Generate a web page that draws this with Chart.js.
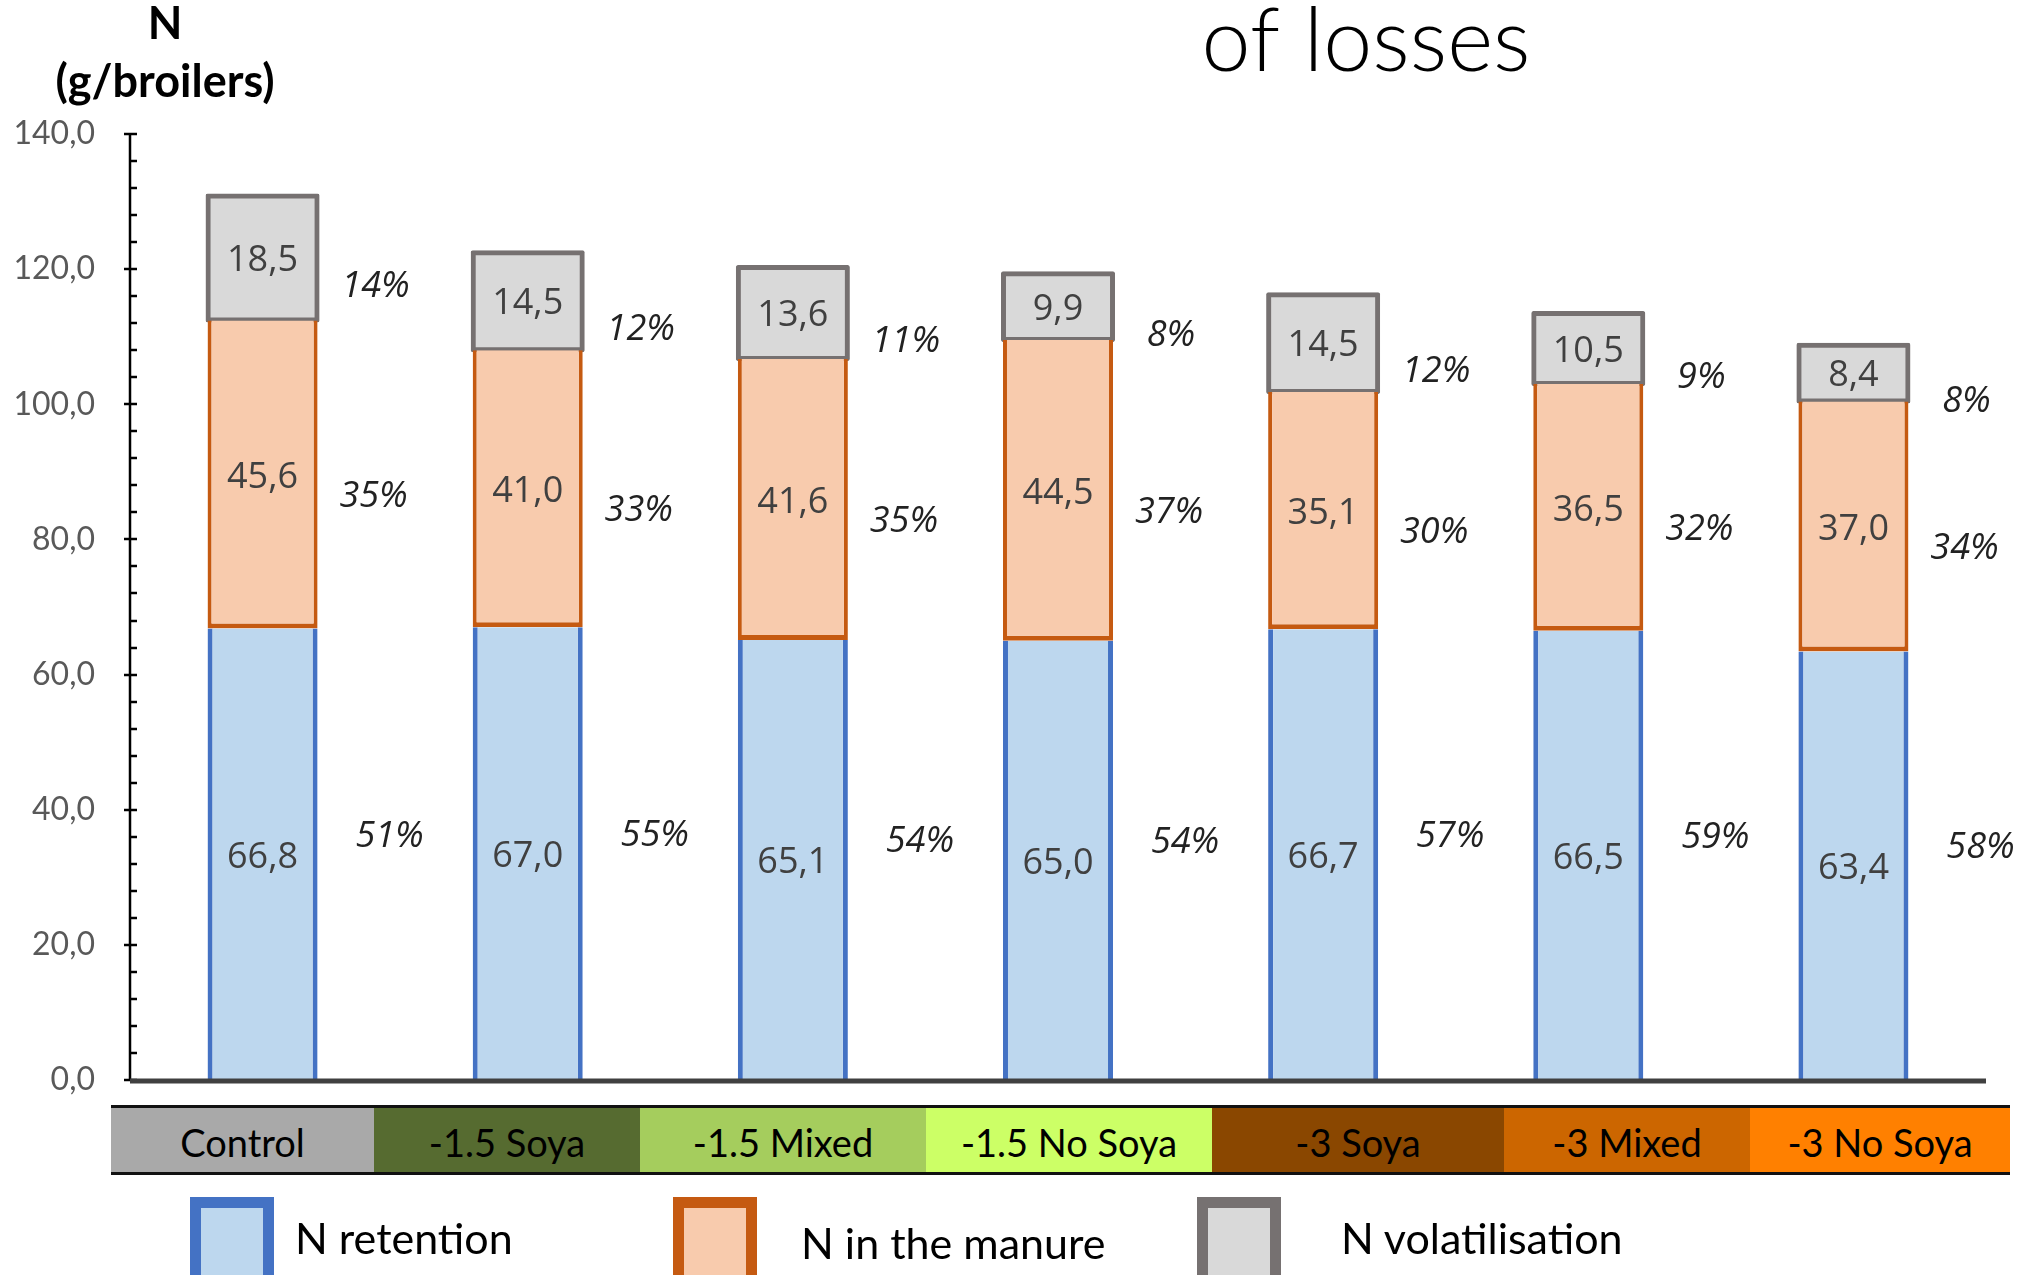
<!DOCTYPE html>
<html>
<head>
<meta charset="utf-8">
<script src="https://cdn.jsdelivr.net/npm/chart.js@4.4.0/dist/chart.umd.min.js"></script>
<style>
  body { margin: 0; background: #fff; }
  #wrap { position: relative; width: 2038px; height: 1275px; overflow: hidden; font-family: Lato, sans-serif; }
  #chart { position: absolute; left: 0; top: 0; }
  #band { position: absolute; left: 111px; top: 1105px; height: 64px; display: flex;
          border-top: 3px solid #111; border-bottom: 3px solid #111; }
  #band div { height: 100%; display: flex; align-items: center; justify-content: center;
              font-size: 38px; color: #000; padding-top: 3px; box-sizing: border-box; }
  .key { position: absolute; top: 1197px; width: 62px; height: 90px; border: 11px solid; }
  .keytxt { position: absolute; font-size: 43px; color: #000; white-space: nowrap; line-height: 1; }
</style>
</head>
<body>
<div id="wrap">
  <canvas id="chart" width="2038" height="1275"></canvas>
  <div id="band"></div>
  <div id="legend"></div>
</div>
<script>
// treatments and N balance per broiler (g)
const categories = ['Control', '-1.5 Soya', '-1.5 Mixed', '-1.5 No Soya', '-3 Soya', '-3 Mixed', '-3 No Soya'];
const seriesNames = ['N retention', 'N in the manure', 'N volatilisation'];

const retention      = [66.8, 67.0, 65.1, 65.0, 66.7, 66.5, 63.4];
const manure         = [45.6, 41.0, 41.6, 44.5, 35.1, 36.5, 37.0];
const volatilisation = [18.5, 14.5, 13.6, 9.9, 14.5, 10.5, 8.4];

// share of total N (%)
const retentionShare      = [51, 55, 54, 54, 57, 59, 58];
const manureShare         = [35, 33, 35, 37, 30, 32, 34];
const volatilisationShare = [14, 12, 11, 8, 12, 9, 8];

const yMax = 140;
const yStep = 20;
const yMinorStep = 4;

// colours
const fills   = ['#BDD7EE', '#F8CBAD', '#D9D9D9'];
const borders = ['#4472C4', '#C55A11', '#767171'];
const bandColours = ['#A9A9A9', '#566B30', '#A5CD5D', '#CCFF66', '#8A4700', '#CC6600', '#FF8000'];
const bandWidths  = [263, 266, 286, 286, 292, 246, 260];

const fmt = v => v.toFixed(1).replace('.', ',');

// label offsets for the share text, per series (px)
const shareDx = [72, 56, 58];
const shareDy = [-18, 22, 29];

const segmentLabels = {
    id: 'segmentLabels',
    afterDatasetsDraw(chart) {
        const ctx = chart.ctx;
        ctx.save();
        ctx.textAlign = 'center';
        ctx.textBaseline = 'middle';
        chart.data.datasets.forEach((ds, i) => {
            const meta = chart.getDatasetMeta(i);
            meta.data.forEach((bar, j) => {
                const mid = (bar.y + bar.base) / 2;
                ctx.font = '36px "Open Sans"';
                ctx.fillStyle = '#404040';
                ctx.fillText(fmt(ds.data[j]), bar.x, mid + 3);
                ctx.font = 'italic 36px "Open Sans"';
                ctx.fillStyle = '#222';
                ctx.fillText(ds.share[j] + '%', bar.x + bar.width / 2 + shareDx[i], mid + shareDy[i]);
            });
        });
        ctx.restore();
    }
};

const axisLines = {
    id: 'axisLines',
    afterDraw(chart) {
        const ctx = chart.ctx;
        const area = chart.chartArea;
        const y = chart.scales.y;
        const x0 = area.left;
        const y0 = y.getPixelForValue(0);
        ctx.save();
        ctx.strokeStyle = '#000';
        ctx.lineWidth = 2.5;
        ctx.beginPath();
        ctx.moveTo(x0, y.getPixelForValue(yMax));
        ctx.lineTo(x0, y0);
        ctx.stroke();
        for (let v = 0; v <= yMax; v += yMinorStep) {
            const py = Math.round(y.getPixelForValue(v));
            ctx.beginPath();
            ctx.moveTo(v % yStep === 0 ? x0 - 6 : x0, py);
            ctx.lineTo(x0 + 7, py);
            ctx.stroke();
        }
        ctx.strokeStyle = '#404040';
        ctx.lineWidth = 5;
        ctx.beginPath();
        ctx.moveTo(x0, y0 + 1);
        ctx.lineTo(area.right, y0 + 1);
        ctx.stroke();

        // titles
        ctx.fillStyle = '#000';
        ctx.textAlign = 'center';
        ctx.textBaseline = 'alphabetic';
        ctx.font = '300 88px Lato';
        ctx.fillText('of losses', 1366, 71);
        ctx.font = 'bold 45px Lato';
        ctx.fillText('N', 165, 39);
        ctx.fillText('(g/broilers)', 165, 97);
        ctx.restore();
    }
};

new Chart(document.getElementById('chart'), {
    type: 'bar',
    data: {
        labels: categories,
        datasets: [
            {
                label: seriesNames[0], data: retention, share: retentionShare,
                backgroundColor: fills[0], borderColor: borders[0],
                borderWidth: {left: 5, right: 5, top: 0, bottom: 0}, borderSkipped: false
            },
            {
                label: seriesNames[1], data: manure, share: manureShare,
                backgroundColor: fills[1], borderColor: borders[1],
                borderWidth: {left: 4, right: 4, top: 0, bottom: 5}, borderSkipped: false
            },
            {
                label: seriesNames[2], data: volatilisation, share: volatilisationShare,
                backgroundColor: fills[2], borderColor: borders[2],
                borderWidth: 5, borderSkipped: false, borderRadius: 2, inflateAmount: 2
            }
        ]
    },
    options: {
        responsive: false,
        animation: false,
        devicePixelRatio: 1,
        layout: { padding: { top: 134, right: 52, bottom: 195, left: 0 } },
        datasets: { bar: { barPercentage: 0.415, categoryPercentage: 1 } },
        plugins: { legend: { display: false }, tooltip: { enabled: false } },
        scales: {
            x: { stacked: true, display: false },
            y: {
                stacked: true,
                min: 0,
                max: yMax,
                afterFit: scale => { scale.width = 130; },
                border: { display: false },
                grid: { display: false, drawTicks: false },
                ticks: {
                    stepSize: yStep,
                    padding: 35,
                    color: '#595959',
                    font: { family: 'Lato', size: 32 },
                    callback: v => fmt(v)
                }
            }
        }
    },
    plugins: [segmentLabels, axisLines]
});

// treatment strip under the axis
const band = document.getElementById('band');
categories.forEach((c, i) => {
    const cell = document.createElement('div');
    cell.textContent = c;
    cell.style.width = bandWidths[i] + 'px';
    cell.style.background = bandColours[i];
    band.appendChild(cell);
});

// legend
const keyLeft = [190, 673, 1197];
const keyTextLeft = [295, 801, 1341];
const keyTextTop = [1216, 1221, 1216];
const legend = document.getElementById('legend');
seriesNames.forEach((name, i) => {
    const box = document.createElement('div');
    box.className = 'key';
    box.style.left = keyLeft[i] + 'px';
    box.style.background = fills[i];
    box.style.borderColor = borders[i];
    legend.appendChild(box);
    const txt = document.createElement('div');
    txt.className = 'keytxt';
    txt.textContent = name;
    txt.style.left = keyTextLeft[i] + 'px';
    txt.style.top = keyTextTop[i] + 'px';
    legend.appendChild(txt);
});
</script>
</body>
</html>
